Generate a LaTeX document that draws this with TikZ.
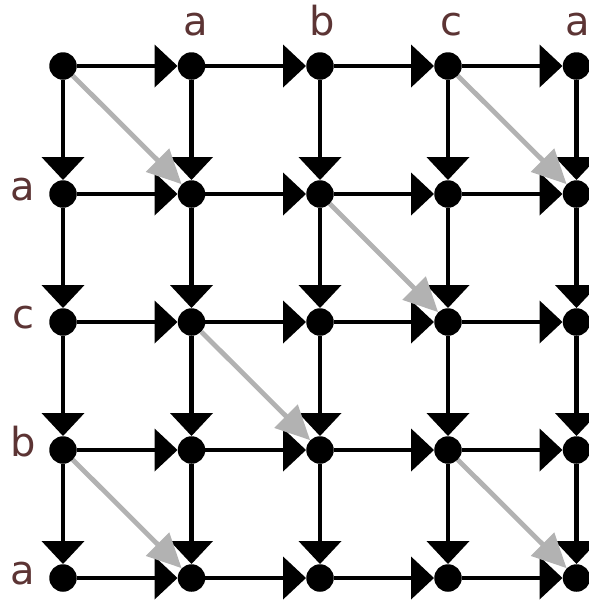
\documentclass[tikz,border=0pt]{standalone}
\usepackage{fontspec}
\setmainfont{DejaVu Sans}
\usetikzlibrary{arrows.meta}
\definecolor{lbl}{RGB}{92,52,52}
\definecolor{diag}{RGB}{178,178,178}
\begin{document}
\begin{tikzpicture}[x=1pt,y=-1pt,
  dot/.style={circle,fill=black,inner sep=0pt,minimum size=27.5pt},
  edge/.style={line width=4.3pt,-{Triangle[length=23pt,width=42pt]}},
  diagarrow/.style={line width=4.8pt,draw=diag,-{Triangle[length=34pt,width=32pt,fill=diag]}},
  lab/.style={text=lbl,font=\fontsize{40}{44}\selectfont,anchor=base,inner sep=0pt}]
\useasboundingbox (0,0) rectangle (589,600);
\foreach \i/\x in {1/63,2/191.5,3/320,4/448,5/576.5}
  \foreach \j/\y in {1/66,2/194,3/322,4/450,5/578}
    \node[dot] (n\i\j) at (\x,\y) {};
% horizontal edges
\foreach \i in {1,2,3,4}
  \foreach \j in {1,2,3,4,5} {
    \pgfmathtruncatemacro{\k}{\i+1}
    \draw[edge] (n\i\j) -- (n\k\j);
  }
% vertical edges
\foreach \i in {1,2,3,4,5}
  \foreach \j in {1,2,3,4} {
    \pgfmathtruncatemacro{\k}{\j+1}
    \draw[edge] (n\i\j) -- (n\i\k);
  }
% diagonal gray arrows
\draw[diagarrow] (n11) -- (n22);
\draw[diagarrow] (n41) -- (n52);
\draw[diagarrow] (n32) -- (n43);
\draw[diagarrow] (n23) -- (n34);
\draw[diagarrow] (n14) -- (n25);
\draw[diagarrow] (n44) -- (n55);
% labels
\node[lab] (t1) at (195.5,35) {a};
\node[lab] (t2) at (322,35) {b};
\node[lab] (t3) at (451,35) {c};
\node[lab] (t4) at (578,35) {a};
\node[lab] (l1) at (23,200) {a};
\node[lab] (l2) at (23,328) {c};
\node[lab] (l3) at (23,456) {b};
\node[lab] (l4) at (23,584) {a};
\end{tikzpicture}
\end{document}
